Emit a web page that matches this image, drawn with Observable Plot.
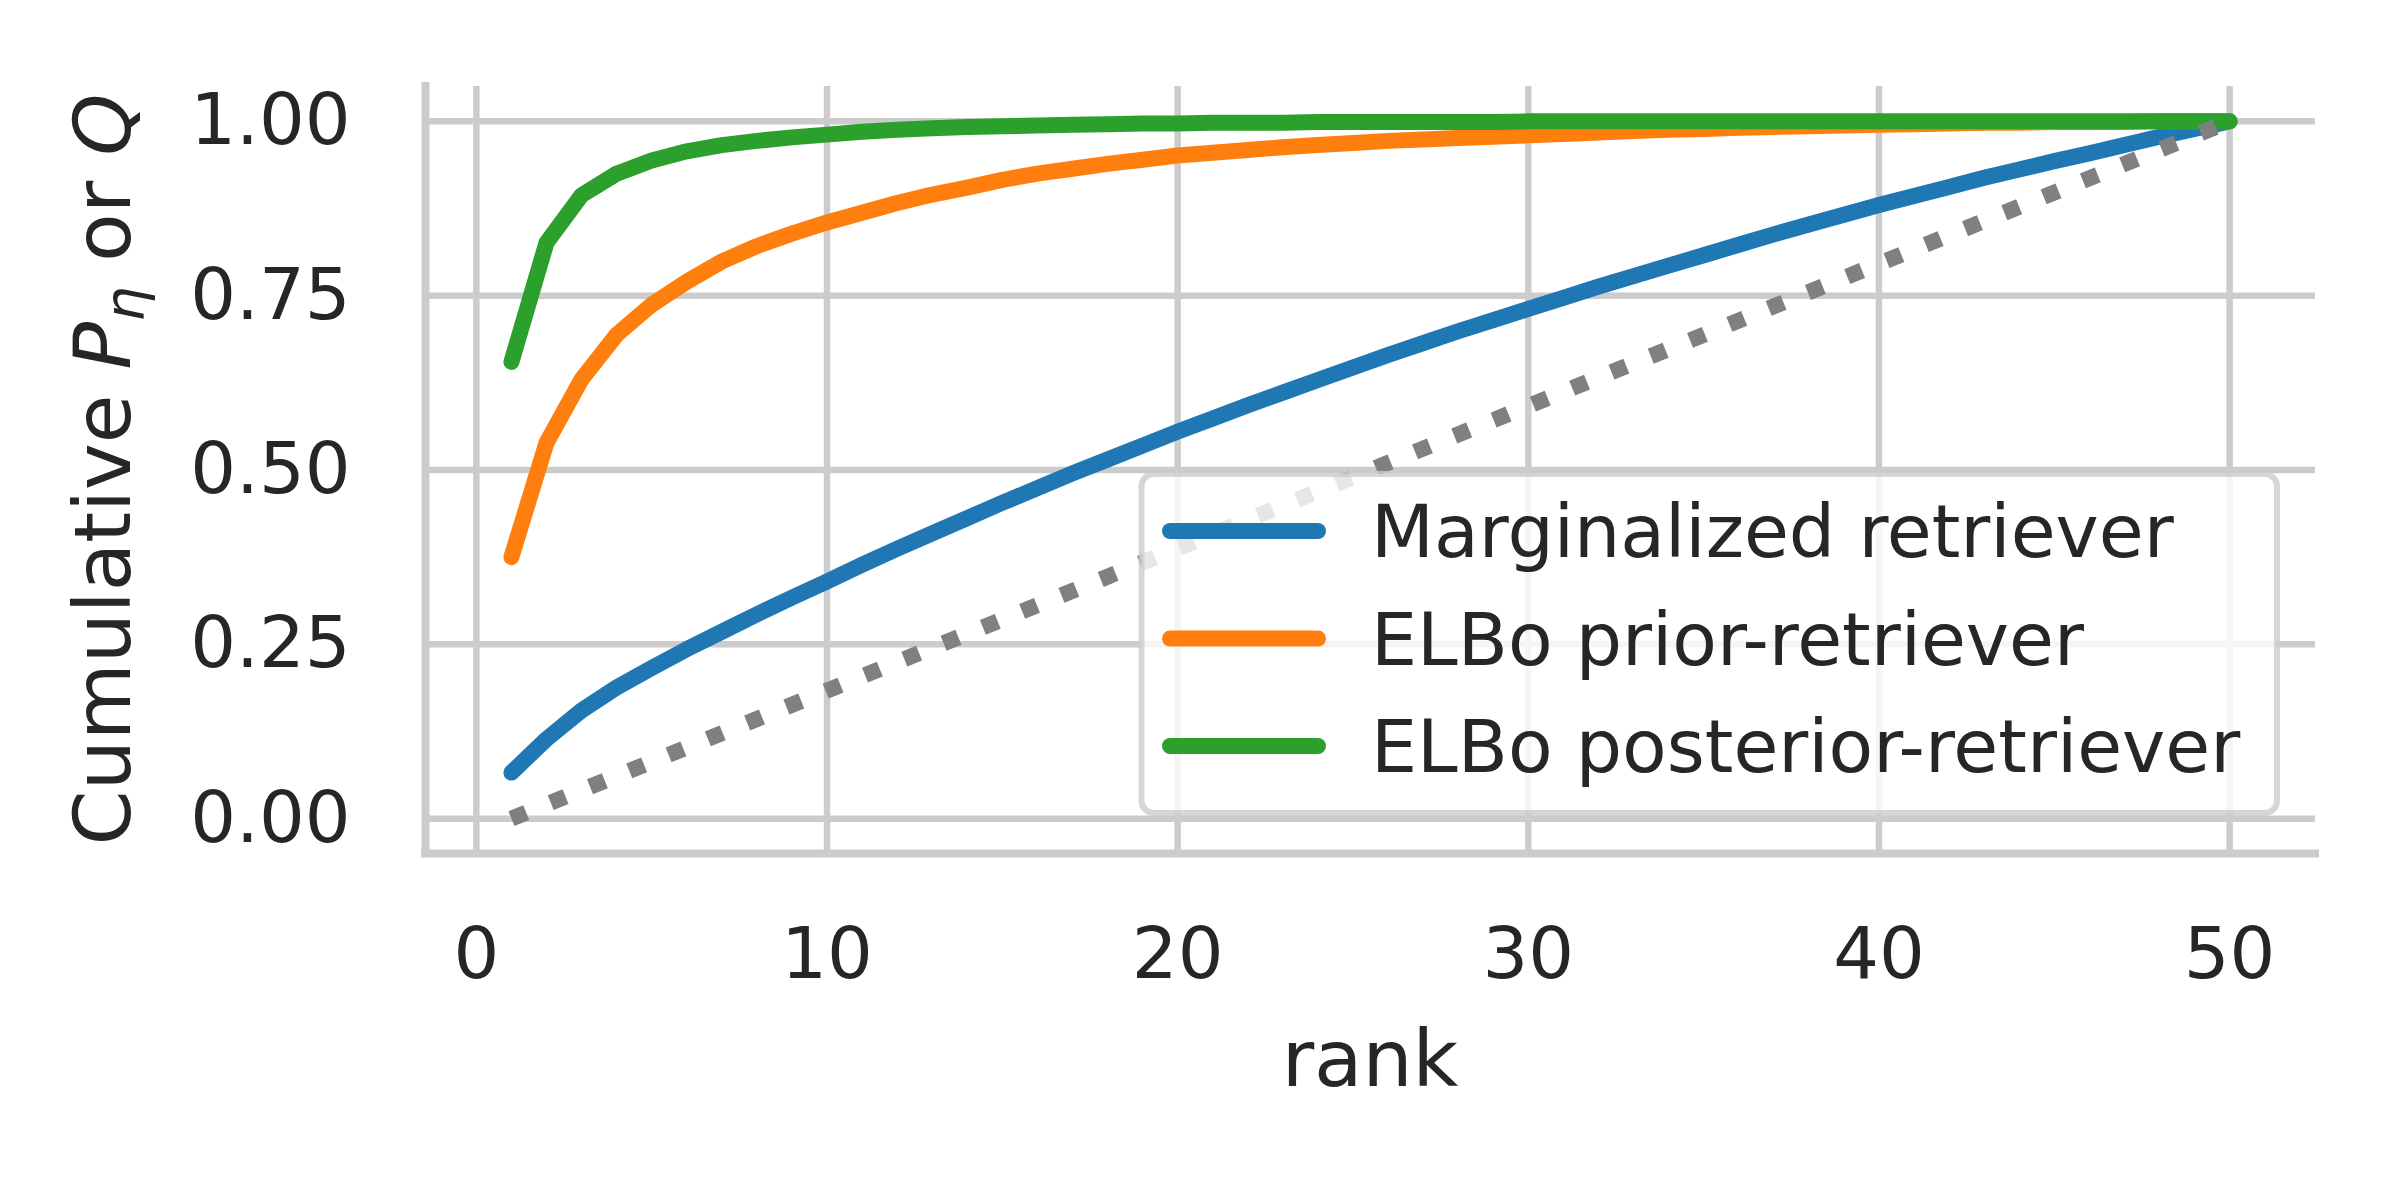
<!DOCTYPE html>
<html>
<head>
<meta charset="utf-8">
<script src="https://cdn.jsdelivr.net/npm/d3@7"></script>
<script src="https://cdn.jsdelivr.net/npm/@observablehq/plot@0.6"></script>
<style>
  html, body { margin: 0; padding: 0; background: #ffffff; }
  svg { display: block; }
</style>
</head>
<body>
<div id="chart"></div>
<script>
// ---------- data ----------
const ranks = [1,2,3,4,5,6,7,8,9,10,11,12,13,14,15,16,17,18,19,20,21,22,23,24,25,26,27,28,29,30,31,32,33,34,35,36,37,38,39,40,41,42,43,44,45,46,47,48,49,50];
const marginalized = [0.066,0.114,0.155,0.188,0.216,0.243,0.268,0.293,0.317,0.340,0.364,0.387,0.409,0.431,0.453,0.474,0.495,0.515,0.535,0.555,0.574,0.593,0.611,0.629,0.647,0.665,0.682,0.699,0.715,0.731,0.747,0.763,0.778,0.793,0.808,0.823,0.838,0.852,0.866,0.880,0.893,0.906,0.919,0.931,0.943,0.954,0.966,0.978,0.989,1.000];
const elboPrior = [0.375,0.539,0.630,0.694,0.737,0.770,0.799,0.821,0.839,0.855,0.869,0.883,0.895,0.905,0.916,0.925,0.932,0.939,0.945,0.951,0.955,0.959,0.963,0.966,0.969,0.972,0.974,0.976,0.978,0.980,0.982,0.984,0.986,0.988,0.989,0.991,0.992,0.993,0.994,0.995,0.996,0.997,0.998,0.998,0.999,0.999,0.999,1.000,1.000,1.000];
const elboPosterior = [0.655,0.826,0.894,0.925,0.944,0.957,0.966,0.972,0.977,0.981,0.985,0.988,0.990,0.992,0.993,0.994,0.995,0.996,0.997,0.997,0.998,0.998,0.998,0.999,0.999,0.999,0.999,0.999,0.999,1.000,1.000,1.000,1.000,1.000,1.000,1.000,1.000,1.000,1.000,1.000,1.000,1.000,1.000,1.000,1.000,1.000,1.000,1.000,1.000,1.000];
const diagRank = [1, 50];
const diagValue = [0, 1];
const seriesNames = ["Marginalized retriever", "ELBo prior-retriever", "ELBo posterior-retriever"];
const seriesColors = ["#1f77b4", "#ff7f0e", "#2ca02c"];
const xTicks = [0, 10, 20, 30, 40, 50];
const yTicks = [0, 0.25, 0.5, 0.75, 1.0];
const xLabel = "rank";

// ---------- derived tables ----------
const seriesValues = [marginalized, elboPrior, elboPosterior];
const series = seriesNames.map((name, k) => ({
  name, color: seriesColors[k],
  rows: ranks.map((r, i) => ({rank: r, value: seriesValues[k][i]}))
}));
const diag = diagRank.map((r, i) => ({rank: r, value: diagValue[i]}));

// matplotlib-like 5% padding of the data extent
const allX = ranks.concat(diagRank);
const allY = [].concat(...seriesValues, diagValue);
const pad = (lo, hi) => [lo - 0.05 * (hi - lo), hi + 0.05 * (hi - lo)];
const xDomain = pad(d3.min(allX), d3.max(allX));
const yDomain = pad(d3.min(allY), d3.max(allY));

// ---------- style constants ----------
const INK = "#262626";
const GRID = "#cccccc";
const FONT = "DejaVu Sans";
const TICK_FS = 72;
const LEGEND_FS = 73;
const LABEL_FS = 79;
const LW = 16;

const W = 2400, H = 1200;
const mL = 425, mR = 85, mT = 86, mB = 347;

const chart = Plot.plot({
  width: W, height: H,
  marginLeft: mL, marginRight: mR, marginTop: mT, marginBottom: mB,
  x: {domain: xDomain},
  y: {domain: yDomain},
  style: {fontFamily: FONT, fontSize: TICK_FS + "px", color: INK, background: "#ffffff", overflow: "visible"},
  marks: [
    Plot.gridX({ticks: xTicks, stroke: GRID, strokeOpacity: 1, strokeWidth: 6.5}),
    Plot.gridY({ticks: yTicks, stroke: GRID, strokeOpacity: 1, strokeWidth: 6.5}),
    Plot.ruleX([xDomain[0]], {stroke: GRID, strokeWidth: 8, strokeLinecap: "square"}),
    Plot.ruleY([yDomain[0]], {stroke: GRID, strokeWidth: 8, strokeLinecap: "square"}),
    Plot.axisX({ticks: xTicks, tickSize: 0, tickPadding: 73, label: null, fontSize: TICK_FS}),
    Plot.axisY({ticks: yTicks, tickSize: 0, tickPadding: 75, label: null, fontSize: TICK_FS, tickFormat: d3.format(".2f")}),
    ...series.map(s => Plot.line(s.rows, {
      x: "rank", y: "value", stroke: s.color, strokeWidth: LW,
      strokeLinecap: "round", strokeLinejoin: "round"
    })),
    Plot.line(diag, {x: "rank", y: "value", stroke: "#808080", strokeWidth: LW,
      strokeDasharray: "16,26.4", strokeLinecap: "butt"})
  ]
});

document.getElementById("chart").appendChild(chart);

// ---------- annotations (labels and legend) ----------
const svg = d3.select(chart);

// x axis label
svg.append("text")
  .attr("x", (mL + (W - mR)) / 2)
  .attr("y", 1086)
  .attr("text-anchor", "middle")
  .attr("font-family", FONT)
  .attr("font-size", LABEL_FS)
  .attr("fill", INK)
  .text(xLabel);

// y axis label with math text
const yl = svg.append("text")
  .attr("transform", `translate(130,${(mT + (H - mB)) / 2}) rotate(-90)`)
  .attr("text-anchor", "middle")
  .attr("font-family", FONT)
  .attr("font-size", LABEL_FS)
  .attr("fill", INK);
yl.append("tspan").text("Cumulative ");
yl.append("tspan").attr("font-style", "italic").text("P");
yl.append("tspan").attr("font-style", "italic").attr("font-size", LABEL_FS * 0.7).attr("dy", 14).text("\u03B7");
yl.append("tspan").attr("dy", -14).text(" or ");
yl.append("tspan").attr("font-style", "italic").text("Q");

// legend
const lg = svg.append("g").attr("text-anchor", "start");
const box = {x: 1141.5, y: 474, w: 1135.5, h: 339};
lg.append("rect")
  .attr("x", box.x).attr("y", box.y).attr("width", box.w).attr("height", box.h)
  .attr("rx", 12).attr("ry", 12)
  .attr("fill", "#ffffff").attr("fill-opacity", 0.8)
  .attr("stroke", GRID).attr("stroke-opacity", 0.8).attr("stroke-width", 6);
const rowY = [531, 638.5, 746];
series.forEach((s, k) => {
  lg.append("line")
    .attr("x1", 1170).attr("x2", 1318)
    .attr("y1", rowY[k]).attr("y2", rowY[k])
    .attr("stroke", s.color).attr("stroke-width", LW).attr("stroke-linecap", "round");
  lg.append("text")
    .attr("x", 1371).attr("y", rowY[k] + 26)
    .attr("text-anchor", "start")
    .attr("font-family", FONT).attr("font-size", LEGEND_FS).attr("fill", INK)
    .text(s.name);
});
</script>
</body>
</html>
